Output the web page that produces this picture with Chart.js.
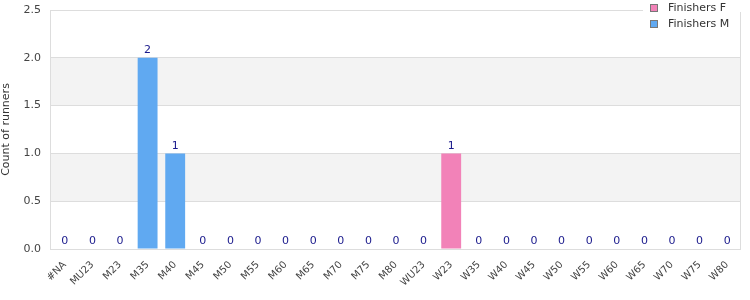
<!DOCTYPE html>
<html>
<head>
<meta charset="utf-8">
<script src="https://cdn.jsdelivr.net/npm/chart.js@4/dist/chart.umd.min.js"></script>
<style>
html,body{margin:0;padding:0;background:#fff;}
#wrap{position:relative;width:750px;height:300px;}
</style>
</head>
<body>
<div id="wrap"><canvas id="c"></canvas></div>
<script>
const categories = ['#NA','MU23','M23','M35','M40','M45','M50','M55','M60','M65','M70','M75','M80','WU23','W23','W35','W40','W45','W50','W55','W60','W65','W70','W75','W80'];
const finishersF = [0,0,0,0,0,0,0,0,0,0,0,0,0,0,1,0,0,0,0,0,0,0,0,0,0];
const finishersM = [0,0,0,2,1,0,0,0,0,0,0,0,0,0,0,0,0,0,0,0,0,0,0,0,0];
const yTicks = [0,0.5,1,1.5,2,2.5];
const seriesNames = ['Finishers F','Finishers M'];
const seriesColors = ['#f282b8','#60a9f1'];

const FONT = "'DejaVu Sans', Verdana, sans-serif";

const bandsPlugin = {
  id: 'bands',
  beforeDraw(chart) {
    const {ctx, chartArea: a, scales: {y}} = chart;
    ctx.save();
    ctx.fillStyle = '#fff';
    ctx.fillRect(0, 0, chart.width, chart.height);
    ctx.fillStyle = '#f3f3f3';
    for (let i = 1; i < yTicks.length; i += 2) {
      const y1 = y.getPixelForValue(yTicks[i]);
      const y2 = y.getPixelForValue(yTicks[i + 1] !== undefined ? yTicks[i + 1] : yTicks[i]);
      ctx.fillRect(a.left, y2, a.right - a.left, y1 - y2);
    }
    ctx.restore();
  },
  afterDatasetsDraw(chart) {
    const {ctx, chartArea: a, scales: {x, y}} = chart;
    ctx.save();
    ctx.strokeStyle = '#dddddd';
    ctx.lineWidth = 1;
    ctx.strokeRect(Math.round(a.left) - 0.5, Math.round(a.top) + 0.5, Math.round(a.right - a.left), Math.round(a.bottom - a.top));
    ctx.fillStyle = '#1a1a8c';
    ctx.font = '11px ' + FONT;
    ctx.textAlign = 'center';
    ctx.textBaseline = 'bottom';
    categories.forEach((c, i) => {
      const total = finishersF[i] + finishersM[i];
      const px = x.getPixelForValue(i);
      const py = y.getPixelForValue(total);
      ctx.fillText(String(total), px, py - 2);
    });
    ctx.restore();
  },
  afterDraw(chart) {
    const {ctx} = chart;
    ctx.save();
    ctx.fillStyle = '#fff';
    ctx.fillRect(643, 0, 107, 12);
    ctx.font = '11px ' + FONT;
    ctx.textBaseline = 'middle';
    ctx.textAlign = 'left';
    seriesNames.forEach((n, i) => {
      const by = 4.5 + i * 16;
      ctx.fillStyle = seriesColors[i];
      ctx.fillRect(650.5, by, 7, 7);
      ctx.strokeStyle = '#777';
      ctx.lineWidth = 1;
      ctx.strokeRect(650.5, by, 7, 7);
      ctx.fillStyle = '#333';
      ctx.fillText(n, 668, by + 4);
    });
    ctx.restore();
  }
};

new Chart(document.getElementById('c'), {
  type: 'bar',
  data: {
    labels: categories,
    datasets: [
      {label: seriesNames[0], data: finishersF, backgroundColor: seriesColors[0], borderWidth: 0},
      {label: seriesNames[1], data: finishersM, backgroundColor: seriesColors[1], borderWidth: 0}
    ]
  },
  options: {
    responsive: true,
    maintainAspectRatio: false,
    animation: false,
    layout: {padding: {top: 10, right: 9, left: 0, bottom: 0}},
    datasets: {bar: {categoryPercentage: 0.8, barPercentage: 0.9}},
    plugins: {legend: {display: false}, tooltip: {enabled: false}},
    scales: {
      x: {
        stacked: true,
        grid: {display: false, drawTicks: false},
        border: {display: false},
        ticks: {autoSkip: false, maxRotation: 45, minRotation: 45, color: '#444', font: {family: FONT, size: 10}, padding: 10},
        afterFit(s) { s.height = 51; s.paddingLeft = 0; s.paddingRight = 0; }
      },
      y: {
        stacked: true,
        min: 0, max: 2.5,
        afterBuildTicks(s) { s.ticks = yTicks.map(v => ({value: v})); },
        grid: {color: '#dddddd', drawTicks: false},
        border: {display: false},
        ticks: {color: '#444', font: {family: FONT, size: 11}, padding: 10, callback: v => Number(v).toFixed(1)},
        title: {display: true, text: 'Count of runners', color: '#333', font: {family: FONT, size: 11}, padding: {top: 0, bottom: 0}},
        afterFit(s) { s.width = 51; s.paddingTop = 0; s.paddingBottom = 0; }
      }
    }
  },
  plugins: [bandsPlugin]
});
</script>
</body>
</html>
